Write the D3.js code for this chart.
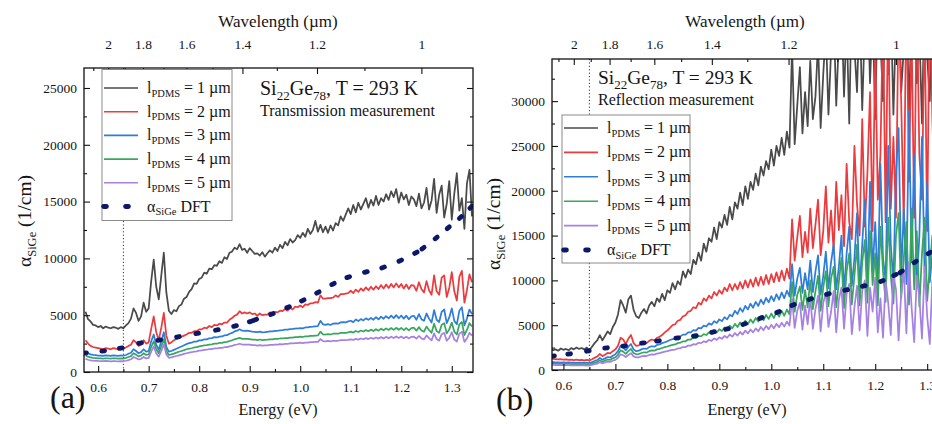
<!DOCTYPE html>
<html>
<head>
<meta charset="utf-8">
<script src="https://cdn.jsdelivr.net/npm/d3@7"></script>
<style>
  body { margin: 0; background: #fff; }
  text { font-family: "Liberation Serif", "Times New Roman", serif; fill: #151515; }
</style>
</head>
<body>
<svg id="chart" width="932" height="424"></svg>
<script>
// ---- sampling grid of the measured spectra (eV) ----
const energyStart = 0.575;
const energyStep = 0.005;

// ---- transmission-derived absorption, alpha_SiGe (1/cm), PDMS thickness 1..5 um ----
const trans1 = [
  5300,4650,4450,4150,4100,3950,4050,3850,4000,3900,
  3850,3950,3900,3800,3950,3850,4100,4300,4700,5600,
  5200,4500,4900,6100,5300,5600,8000,9900,7500,6400,
  8500,10500,7000,5400,5100,5450,5350,5800,5950,6450,
  6600,7050,7300,7800,7750,8200,8300,8750,8650,9100,
  9050,9400,9350,9750,9600,10100,9950,10500,10600,10950,
  10800,11250,10750,10850,10500,10900,10650,10400,10450,10250,
  10550,10150,10450,10700,10500,10950,10650,11200,10900,11450,
  11150,11700,11400,11600,12050,11800,12250,11900,12600,12150,
  12500,13300,12350,12950,12300,12800,12250,12900,12450,13100,
  12900,13700,13300,13850,14400,13900,14700,14050,14900,14300,
  14800,15300,14450,15150,14650,15500,14700,15300,15000,15650,
  15150,15900,15400,16100,14900,15800,15200,15600,14700,15450,
  15200,14600,15700,14400,14900,16200,14300,15100,17000,14000,
  15600,16400,13600,14800,16800,13400,15700,17500,14200,15300,
  12600,16600,17800,13700
];
const trans2 = [
  2800,2500,2300,2200,2150,2100,2050,2000,2100,2050,
  2000,2100,2050,2000,2100,2050,2150,2300,2400,2800,
  2600,2300,2400,2800,2500,2600,3800,4900,3500,2800,
  3900,5200,3200,2500,2600,2800,2900,3000,3100,3200,
  3300,3450,3450,3600,3600,3750,3750,3900,3850,4050,
  3950,4150,4100,4250,4200,4350,4350,4600,4750,4950,
  5050,5350,5150,5250,5150,5250,5100,5150,4950,5150,
  5000,5050,5050,5250,5100,5300,5250,5400,5350,5550,
  5400,5650,5500,5750,5700,5850,5700,5950,5900,6050,
  6050,6150,6100,6750,6450,6450,6500,6500,6550,6750,
  6600,6850,6850,6900,6950,7150,6950,7250,7050,7350,
  7150,7450,7200,7500,7250,7550,7300,7650,7350,7700,
  7400,7750,7450,7800,7450,7750,7350,7700,7300,7650,
  7600,7150,7900,7300,7000,8000,7200,6800,8500,7100,
  6800,8300,8500,6600,7400,8800,7100,6300,8400,8900,
  6100,7200,8600,7900
];
const trans3 = [
  1800,1650,1550,1500,1480,1450,1450,1420,1460,1440,
  1420,1460,1440,1420,1460,1430,1500,1600,1700,2000,
  1850,1650,1750,2000,1800,1850,2700,3300,2400,1950,
  2700,3500,2200,1800,1850,1950,2050,2150,2250,2350,
  2450,2550,2580,2680,2680,2780,2780,2880,2870,2970,
  2980,3070,3040,3120,3130,3220,3240,3370,3440,3570,
  3640,3760,3640,3610,3640,3600,3560,3540,3510,3560,
  3490,3510,3540,3570,3580,3620,3630,3670,3690,3720,
  3730,3770,3790,3820,3830,3870,3840,3920,3930,3970,
  3990,4020,4040,4500,4200,4150,4220,4140,4260,4290,
  4250,4370,4390,4360,4460,4510,4390,4620,4480,4660,
  4540,4720,4590,4760,4600,4820,4640,4870,4690,4910,
  4720,4960,4740,5010,4730,4970,4700,4960,4640,4890,
  4950,4600,5100,4650,4500,5150,4700,4350,5450,4600,
  4400,5300,5500,4300,4800,5600,4500,4200,5400,5700,
  4100,4700,5500,5100
];
const trans4 = [
  1450,1350,1280,1250,1230,1200,1200,1180,1210,1190,
  1180,1210,1190,1170,1200,1180,1240,1320,1400,1650,
  1530,1370,1450,1650,1500,1550,2200,2700,2000,1650,
  2250,2900,1850,1500,1550,1620,1700,1780,1850,1920,
  2000,2060,2090,2160,2190,2260,2290,2340,2360,2410,
  2440,2490,2490,2560,2570,2630,2650,2730,2790,2880,
  2940,3010,2920,2910,2920,2890,2850,2860,2810,2860,
  2810,2830,2840,2870,2870,2910,2910,2950,2950,2990,
  2990,3030,3030,3070,3070,3110,3080,3130,3140,3170,
  3180,3210,3220,3550,3320,3300,3340,3300,3370,3380,
  3370,3440,3450,3450,3490,3550,3470,3610,3520,3650,
  3560,3690,3590,3730,3610,3770,3640,3810,3670,3840,
  3700,3870,3710,3890,3720,3880,3690,3870,3670,3860,
  3900,3640,3950,3660,3550,4000,3700,3450,4250,3600,
  3450,4150,4300,3400,3750,4350,3550,3300,4200,4400,
  3250,3700,4300,4000
];
const trans5 = [
  1150,1080,1030,1000,990,970,960,950,970,955,
  945,965,950,940,960,945,990,1050,1120,1320,
  1230,1100,1160,1320,1200,1250,1800,2250,1650,1350,
  1850,2450,1550,1250,1290,1350,1410,1470,1530,1590,
  1650,1710,1740,1800,1820,1880,1900,1950,1960,2010,
  2020,2070,2070,2120,2130,2180,2190,2260,2300,2380,
  2420,2490,2420,2410,2410,2400,2360,2370,2330,2370,
  2330,2350,2350,2380,2380,2410,2410,2450,2440,2480,
  2480,2510,2510,2540,2540,2580,2550,2590,2590,2620,
  2620,2650,2650,2900,2720,2700,2730,2700,2750,2750,
  2750,2800,2800,2810,2830,2880,2820,2920,2850,2950,
  2880,2980,2900,3010,2920,3040,2940,3070,2960,3090,
  2980,3110,2990,3130,3000,3120,2980,3110,2960,3100,
  3120,2940,3170,2950,2870,3220,2980,2780,3400,2900,
  2760,3330,3450,2750,3000,3500,2850,2680,3380,3550,
  2650,2950,3450,3200
];

// ---- reflection-derived absorption, alpha_SiGe (1/cm) ----
const refl1 = [
  2400,2200,2300,2150,2400,2250,2350,2200,2450,2300,
  2500,2350,2450,2300,2500,2200,2600,3000,3300,3900,
  3300,3800,4300,4000,4800,5300,6200,7800,7200,6400,
  7900,8300,6700,6000,5800,6400,6800,6300,7200,7600,
  7100,8000,7600,8500,7800,8900,8600,9700,9000,9900,
  9500,11000,10300,11200,10700,12300,11800,13100,12200,14100,
  13200,14700,14300,15900,14600,16500,15900,17300,16200,18200,
  16800,18700,18000,19800,18400,20500,19100,21000,20100,21900,
  20600,22700,21700,23300,22400,24600,22800,25000,23900,25900,
  24000,26600,24800,36000,25200,29500,33800,26400,31000,27200,
  34500,28000,30500,36500,27000,33000,38000,28500,35500,40000,
  29500,37000,41000,30500,39000,27500,42000,36000,31000,41000,
  29000,38500,43000,32000,40000,28000,42000,37000,30000,43000,
  33000,41000,28500,39000,43000,31000,36000,42000,29000,40000,
  43000,32000,38000,27500,42000,35000,30000,43000,37000,31000,
  42000,29000,40000,36000
];
const refl2 = [
  1300,1250,1200,1180,1200,1150,1180,1120,1160,1100,
  1150,1100,1130,1080,1120,1080,1200,1350,1500,1800,
  1550,1700,1900,1850,2100,2300,2700,3600,3400,2900,
  3500,3900,3000,2700,2750,2950,3050,3000,3250,3400,
  3300,3600,3700,3900,4200,4400,4700,5000,5100,5500,
  5600,6000,6100,6500,6600,7000,6900,7500,7300,8000,
  7700,8300,8000,8700,8300,8900,8500,9200,8800,9600,
  8900,9600,9000,9800,9100,10000,9200,10100,9300,10300,
  9400,10400,9500,10600,9600,10700,9800,10900,9900,11100,
  10000,11300,10200,16800,12200,14800,17200,12600,15400,13100,
  18000,13600,16200,19000,12800,15500,20500,14200,17800,13300,
  21000,15600,19500,13800,23000,16500,14600,25000,18500,15000,
  28000,16000,22000,31000,15500,36000,19000,24000,40000,16500,
  42000,18000,26000,17000,41000,30000,16000,43000,21000,38000,
  17000,42000,24000,19000,40000,15500,43000,28000,18000,41000,
  22000,16000,42000,35000
];
const refl3 = [
  900,880,850,860,830,850,820,840,810,830,
  800,820,800,810,790,800,880,1000,1100,1350,
  1150,1300,1450,1400,1600,1750,2100,2700,2500,2200,
  2600,2900,2300,2100,2150,2300,2400,2350,2550,2650,
  2600,2800,2850,3000,3100,3200,3350,3450,3500,3700,
  3750,3950,3950,4200,4200,4450,4400,4700,4650,4950,
  4850,5200,5050,5450,5250,5650,5450,5900,5650,6150,
  6000,6600,6250,6900,6500,7150,6750,7400,6950,7600,
  7150,7850,7350,8050,7550,8250,7700,8450,7850,8650,
  8000,8850,8200,11800,8300,10200,11400,8600,10800,9000,
  12200,8700,11000,12800,8400,10500,13200,9100,12000,14000,
  9000,11500,15000,8800,13000,16000,9400,12500,17500,9200,
  14000,19000,9600,21000,11000,16500,9300,23000,12500,10000,
  25000,14000,9700,22000,27000,10500,18000,9600,29000,12000,
  24000,9500,15000,26000,10800,21000,9800,13000,25000,10200,
  20000,9500,23000,12000
];
const refl4 = [
  720,700,690,700,680,690,670,680,660,670,
  650,665,650,660,640,650,710,800,880,1080,
  920,1050,1170,1130,1300,1420,1700,2200,2050,1800,
  2100,2350,1900,1750,1780,1900,1980,1950,2100,2180,
  2150,2300,2350,2450,2550,2620,2730,2800,2850,3000,
  3050,3200,3200,3400,3400,3600,3550,3800,3750,4000,
  3900,4200,4050,4400,4200,4550,4350,4750,4500,4950,
  4650,5150,4800,5300,4950,5500,5100,5650,5250,5800,
  5400,6000,5550,6150,5700,6300,5800,6450,5950,6600,
  6050,6750,6200,9800,6500,8400,9300,6700,8900,7000,
  10000,6800,8800,10500,6600,9200,11000,7100,10200,11500,
  7000,9800,12500,6900,11000,13000,7300,10500,14000,7200,
  12000,14500,7500,15500,9500,13000,7200,16000,11000,7600,
  17000,10500,7400,15000,17500,8000,12500,16500,7300,18000,
  9000,15500,7100,13000,17000,7700,11500,15000,7300,16500,
  8500,14500,7000,14000
];
const refl5 = [
  580,560,550,560,540,550,530,540,520,530,
  510,525,510,520,500,510,560,640,700,860,
  740,840,930,900,1030,1130,1350,1750,1650,1450,
  1680,1880,1520,1400,1420,1520,1580,1560,1680,1750,
  1720,1840,1880,1960,2040,2100,2180,2240,2280,2400,
  2440,2560,2560,2720,2720,2880,2840,3040,3000,3200,
  3120,3360,3240,3520,3360,3640,3480,3800,3600,3960,
  3720,4120,3840,4240,3960,4400,4080,4520,4200,4640,
  4320,4800,4440,4920,4560,5040,4640,5160,4760,5280,
  4840,5400,4960,7900,4700,6600,7500,4500,7200,5100,
  8100,4600,6800,8300,4300,7500,8600,4800,6500,8800,
  4200,7800,9200,4600,8500,9600,4000,7000,9400,4400,
  8800,10000,3800,9200,6500,10300,4200,8000,3600,10000,
  7500,3900,10600,9000,3300,8500,11200,4100,12000,7000,
  3100,10500,8000,3500,11500,6000,2900,10000,9000,3200,
  10200,5500,2900,9000
];

// ---- DFT absorption curve samples ----
const dftTransEnergy = [0.574,0.610,0.645,0.683,0.721,0.758,0.796,0.835,0.871,0.902,0.911,0.944,0.976,1.005,1.035,1.065,1.095,1.130,1.164,1.198,1.229,1.243,1.269,1.293,1.317,1.338];
const dftTransAlpha  = [1670,1850,2100,2550,2800,3100,3400,3700,4050,4450,4600,5100,5700,6300,7000,7750,8350,8800,9200,9800,10500,10900,11800,12700,13600,14500];
const dftReflEnergy = [0.580,0.611,0.647,0.682,0.717,0.753,0.782,0.819,0.853,0.888,0.915,0.948,0.980,1.013,1.042,1.075,1.109,1.144,1.178,1.213,1.238,1.250,1.277,1.304];
const dftReflAlpha  = [1560,1790,2120,2460,2680,3010,3240,3570,3800,4240,4580,5130,5800,6470,7250,7920,8480,8930,9380,9930,10600,10950,12050,13050];

// ---- axes, labels, styling ----
const energyTicks = [0.6,0.7,0.8,0.9,1.0,1.1,1.2,1.3];
const energyMinorTicks = [0.65,0.75,0.85,0.95,1.05,1.15,1.25];
const wavelengthTicks = [2,1.8,1.6,1.4,1.2,1];
const wavelengthLabels = ["2","1.8","1.6","1.4","1.2","1"];
const wavelengthMinorTicks = [2.1,1.9,1.7,1.5,1.3,1.1];
const alphaTicksTrans = [0,5000,10000,15000,20000,25000];
const alphaTicksRefl = [0,5000,10000,15000,20000,25000,30000];
const thicknessLabels = ["1","2","3","4","5"];
const seriesColors = ["#4a4a4a","#ec3b3e","#2f7ddb","#37a75f","#a681e3"];
const dftColor = "#0b1869";
const markerEnergy = 0.65;       // dotted guide line
const hc = 1.23984;              // eV * um

const svg = d3.select("#chart");
const serif = "'Liberation Serif','Times New Roman',serif";

function gridFor(n) {
  return d3.range(n).map(i => +(energyStart + i * energyStep).toFixed(3));
}

function subText(sel, parts, subSize) {
  // parts: [text, isSubscript] pairs
  let shifted = false;
  parts.forEach(([t, sub]) => {
    const ts = sel.append("tspan").text(t);
    if (sub) {
      ts.attr("font-size", subSize);
      if (!shifted) { ts.attr("dy", subSize * 0.36); shifted = true; }
    } else if (shifted) {
      ts.attr("dy", -subSize * 0.36); shifted = false;
    }
  });
}

function styleAxis(g, fontSize) {
  g.select(".domain").remove();
  g.attr("font-family", null).attr("font-size", null);
  g.selectAll("line").attr("stroke", "#111").attr("stroke-width", 1.1);
  g.selectAll("text").attr("font-family", serif).attr("font-size", fontSize).attr("fill", "#1a1a1a");
}

function drawPanel(p) {
  const x = d3.scaleLinear().domain(p.energyDomain).range([p.left, p.right]);
  const y = d3.scaleLinear().domain([0, p.alphaMax]).range([p.bottom, p.top]);
  const clipId = "clip-" + p.id;
  svg.append("clipPath").attr("id", clipId).append("rect")
    .attr("x", p.left).attr("y", p.top)
    .attr("width", p.right - p.left).attr("height", p.bottom - p.top);

  const plot = svg.append("g").attr("clip-path", `url(#${clipId})`);

  plot.append("line")
    .attr("x1", x(markerEnergy)).attr("x2", x(markerEnergy))
    .attr("y1", p.top).attr("y2", p.bottom)
    .attr("stroke", "#333").attr("stroke-width", 1)
    .attr("stroke-dasharray", "1.2,2.2");

  const line = d3.line().x(d => x(d[0])).y(d => y(d[1]));
  p.series.forEach((vals, k) => {
    const es = gridFor(vals.length);
    plot.append("path")
      .datum(vals.map((v, i) => [es[i], v]))
      .attr("d", line)
      .attr("fill", "none")
      .attr("stroke", seriesColors[k])
      .attr("stroke-width", 1.75)
      .attr("stroke-linejoin", "round");
  });

  // DFT curve drawn as short round dashes along the curve
  const pts = p.dftEnergy.map((e, i) => [x(e), y(p.dftAlpha[i])]);
  pts.forEach((pt, i) => {
    const a = pts[Math.max(0, i - 1)], b = pts[Math.min(pts.length - 1, i + 1)];
    let dx = b[0] - a[0], dy = b[1] - a[1];
    const len = Math.hypot(dx, dy) || 1;
    dx /= len; dy /= len;
    plot.append("line")
      .attr("x1", pt[0] - dx * 1.4).attr("y1", pt[1] - dy * 1.4)
      .attr("x2", pt[0] + dx * 1.4).attr("y2", pt[1] + dy * 1.4)
      .attr("stroke", dftColor).attr("stroke-width", 4.8)
      .attr("stroke-linecap", "round");
  });

  // axes (ticks pointing inward)
  const gb = svg.append("g").attr("transform", `translate(0,${p.bottom})`)
    .call(d3.axisBottom(x).tickValues(energyTicks).tickFormat(d3.format(".1f"))
      .tickSizeInner(-6).tickSizeOuter(0).tickPadding(10));
  styleAxis(gb, 13.5);
  const gbm = svg.append("g").attr("transform", `translate(0,${p.bottom})`)
    .call(d3.axisBottom(x).tickValues(energyMinorTicks).tickFormat("").tickSizeInner(-3).tickSizeOuter(0));
  styleAxis(gbm, 13.5);

  const gt = svg.append("g").attr("transform", `translate(0,${p.top})`)
    .call(d3.axisTop(x).tickValues(wavelengthTicks.map(l => hc / l))
      .tickFormat((d, i) => wavelengthLabels[i])
      .tickSizeInner(-6).tickSizeOuter(0).tickPadding(p.topPad));
  styleAxis(gt, 13.5);
  const gtm = svg.append("g").attr("transform", `translate(0,${p.top})`)
    .call(d3.axisTop(x).tickValues(wavelengthMinorTicks.map(l => hc / l)).tickFormat("")
      .tickSizeInner(-3).tickSizeOuter(0));
  styleAxis(gtm, 13.5);

  const alphaMinor = d3.range(2500, p.alphaMax, 5000);
  const gl = svg.append("g").attr("transform", `translate(${p.left},0)`)
    .call(d3.axisLeft(y).tickValues(p.alphaTicks).tickFormat(d3.format("d"))
      .tickSizeInner(-6).tickSizeOuter(0).tickPadding(7));
  styleAxis(gl, 13.5);
  const glm = svg.append("g").attr("transform", `translate(${p.left},0)`)
    .call(d3.axisLeft(y).tickValues(alphaMinor).tickFormat("").tickSizeInner(-3).tickSizeOuter(0));
  styleAxis(glm, 13.5);
  const gr = svg.append("g").attr("transform", `translate(${p.right},0)`)
    .call(d3.axisRight(y).tickValues(p.alphaTicks).tickFormat("").tickSizeInner(-6).tickSizeOuter(0));
  styleAxis(gr, 13.5);
  const grm = svg.append("g").attr("transform", `translate(${p.right},0)`)
    .call(d3.axisRight(y).tickValues(alphaMinor).tickFormat("").tickSizeInner(-3).tickSizeOuter(0));
  styleAxis(grm, 13.5);

  svg.append("rect")
    .attr("x", p.left).attr("y", p.top)
    .attr("width", p.right - p.left).attr("height", p.bottom - p.top)
    .attr("fill", "none").attr("stroke", "#111").attr("stroke-width", 1.3);

  // axis titles
  svg.append("text").attr("x", p.wlTitleX).attr("y", 27)
    .attr("text-anchor", "middle").attr("font-size", 17).text("Wavelength (µm)");
  svg.append("text").attr("x", p.enTitleX).attr("y", 415)
    .attr("text-anchor", "middle").attr("font-size", 16).text("Energy (eV)");
  const yt = svg.append("text")
    .attr("transform", `translate(${p.yTitleX},${p.yTitleY}) rotate(-90)`)
    .attr("text-anchor", "middle").attr("font-size", 19.5);
  subText(yt, [["α", false], ["SiGe", true], [" (1/cm)", false]], 12.5);

  // panel tag
  svg.append("text").attr("x", p.tagX).attr("y", p.tagY)
    .attr("font-size", 32).text(p.tag);

  // sample annotation
  const t1 = svg.append("text").attr("x", p.noteX).attr("y", p.noteY).attr("font-size", p.noteSize);
  subText(t1, [["Si", false], ["22", true], ["Ge", false], ["78", true], [", T = 293 K", false]], 13);
  svg.append("text").attr("x", p.noteX).attr("y", p.noteY + 21)
    .attr("font-size", 16).text(p.method);

  // legend
  const L = p.legend;
  svg.append("rect").attr("x", L.x).attr("y", L.y).attr("width", L.w).attr("height", L.h)
    .attr("fill", "#fff").attr("stroke", "#8a8a8a").attr("stroke-width", 1);
  thicknessLabels.forEach((lab, k) => {
    const cy = L.row0 + k * L.step;
    svg.append("line").attr("x1", L.x + 2).attr("x2", L.x + 36).attr("y1", cy).attr("y2", cy)
      .attr("stroke", seriesColors[k]).attr("stroke-width", 1.6);
    const t = svg.append("text").attr("x", L.x + 45).attr("y", cy + 5).attr("font-size", 16);
    subText(t, [["l", false], ["PDMS", true], [` = ${lab} µm`, false]], 10.5);
  });
  const cyD = L.row0 + 5 * L.step;
  [L.x + 3, L.x + 25].forEach(px => {
    svg.append("line").attr("x1", px - 1.4).attr("x2", px + 1.4).attr("y1", cyD).attr("y2", cyD)
      .attr("stroke", dftColor).attr("stroke-width", 4.8).attr("stroke-linecap", "round");
  });
  const td = svg.append("text").attr("x", L.x + 45).attr("y", cyD + 5).attr("font-size", 16);
  subText(td, [["α", false], ["SiGe", true], [" DFT", false]], 10.5);
}

drawPanel({
  id: "trans", left: 84, right: 473, top: 68, bottom: 372,
  energyDomain: [0.572, 1.342], alphaMax: 26760, alphaTicks: alphaTicksTrans,
  series: [trans1, trans2, trans3, trans4, trans5],
  dftEnergy: dftTransEnergy, dftAlpha: dftTransAlpha,
  topPad: 19, wlTitleX: 278, enTitleX: 278, yTitleX: 31, yTitleY: 221,
  tag: "(a)", tagX: 50, tagY: 408,
  noteX: 260, noteY: 95, noteSize: 20, method: "Transmission measurement",
  legend: { x: 102, y: 69.5, w: 130, h: 151, row0: 88, step: 23.7 }
});

drawPanel({
  id: "refl", left: 552, right: 949, top: 59, bottom: 370,
  energyDomain: [0.578, 1.342], alphaMax: 34700, alphaTicks: alphaTicksRefl,
  series: [refl1, refl2, refl3, refl4, refl5],
  dftEnergy: dftReflEnergy, dftAlpha: dftReflAlpha,
  topPad: 10, wlTitleX: 745, enTitleX: 747, yTitleX: 500, yTitleY: 224,
  tag: "(b)", tagX: 496, tagY: 410,
  noteX: 598, noteY: 84, noteSize: 19.5, method: "Reflection measurement",
  legend: { x: 562, y: 115, w: 128, h: 148, row0: 128, step: 24.4 }
});
</script>
</body>
</html>
